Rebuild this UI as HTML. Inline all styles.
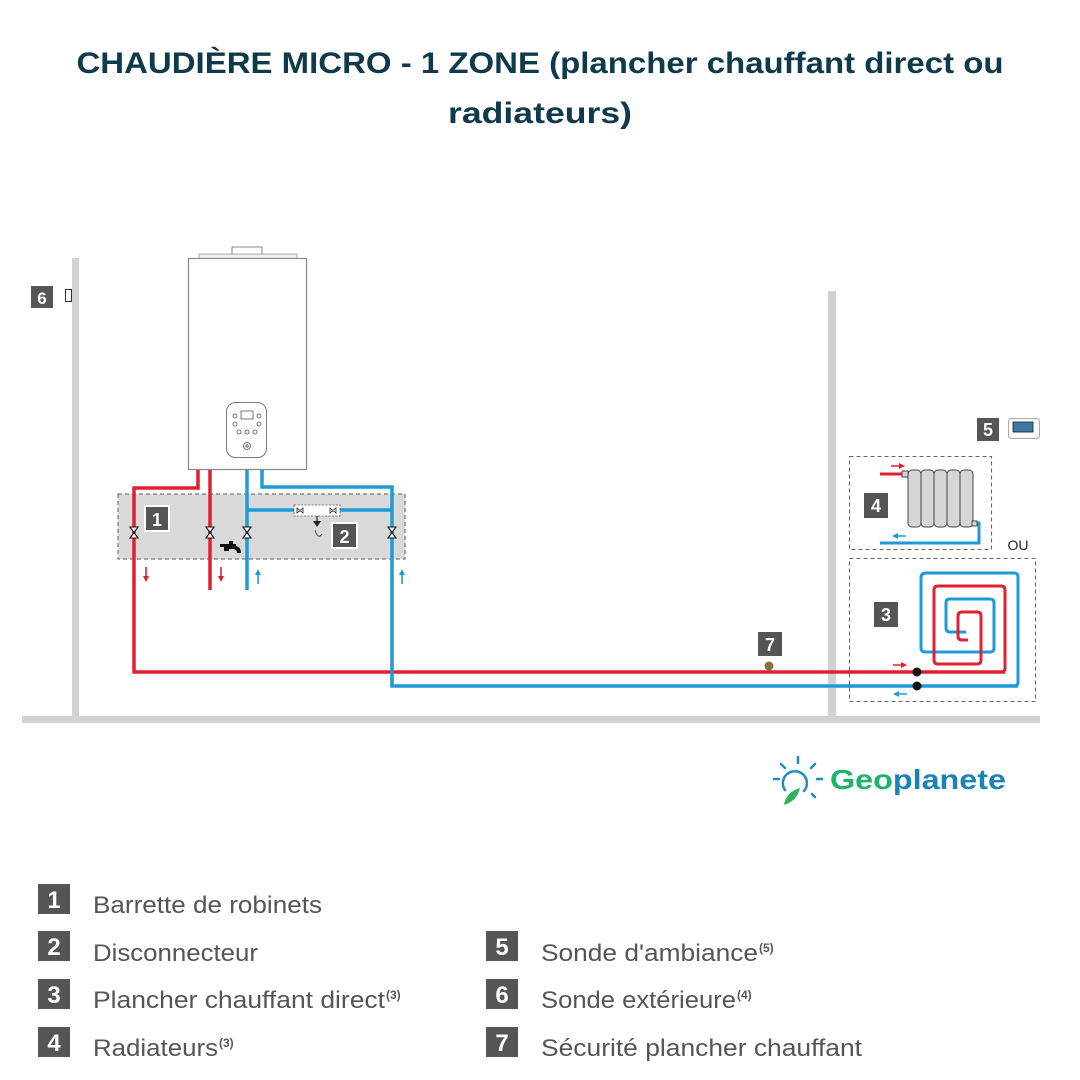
<!DOCTYPE html>
<html><head><meta charset="utf-8"><style>
html,body{margin:0;padding:0;background:#fff;}
svg{display:block;}
text{font-family:"Liberation Sans",sans-serif;}
</style></head><body>
<svg width="1080" height="1080" viewBox="0 0 1080 1080" xmlns="http://www.w3.org/2000/svg">
<rect width="1080" height="1080" fill="#fff"/>
<!-- Title -->
<text x="540" y="73" text-anchor="middle" font-size="30" font-weight="bold" fill="#0f3a4c" textLength="927" lengthAdjust="spacingAndGlyphs">CHAUDIÈRE MICRO - 1 ZONE (plancher chauffant direct ou</text>
<text x="540" y="123" text-anchor="middle" font-size="30" font-weight="bold" fill="#0f3a4c" textLength="184" lengthAdjust="spacingAndGlyphs">radiateurs)</text>

<!-- walls -->
<rect x="72" y="258" width="7" height="462" fill="#d2d2d2"/>
<rect x="828" y="291" width="8" height="429" fill="#d2d2d2"/>
<rect x="22" y="716" width="1018" height="7" fill="#d2d2d2"/>

<!-- label 6 -->
<rect x="31" y="286" width="22" height="22" fill="#555"/>
<text x="42" y="304" text-anchor="middle" font-size="17" font-weight="bold" fill="#fff">6</text>
<rect x="65.5" y="289.5" width="6" height="12" fill="none" stroke="#333" stroke-width="1"/>

<!-- manifold area -->
<rect x="118" y="494" width="287" height="65" fill="#d9d9d9" stroke="#777" stroke-width="1.2" stroke-dasharray="4,3"/>

<!-- boiler -->
<rect x="232" y="247" width="30" height="10" fill="#fff" stroke="#888"/>
<rect x="199" y="254" width="98" height="5" fill="#eee" stroke="#999" stroke-width="0.8"/>
<rect x="188.5" y="258.5" width="118" height="211" fill="#fff" stroke="#888" stroke-width="1.2"/>
<rect x="226.5" y="402.5" width="40" height="55" rx="9" fill="#fff" stroke="#777"/>
<rect x="241" y="411" width="12" height="8" fill="#fff" stroke="#555" stroke-width="0.8"/>
<g fill="none" stroke="#555" stroke-width="0.8">
<circle cx="235" cy="416" r="2"/><circle cx="259" cy="416" r="2"/>
<circle cx="235" cy="424" r="2"/><circle cx="259" cy="424" r="2"/>
<circle cx="239" cy="432" r="2"/><circle cx="247" cy="432" r="2"/><circle cx="255" cy="432" r="2"/>
<circle cx="247" cy="446" r="3.5"/><circle cx="247" cy="446" r="1.2"/>
</g>

<!-- pipes -->
<g fill="none" stroke-width="3.5" stroke-linejoin="miter">
<path d="M198 470 V488 H134 V672 H1005" stroke="#e02030"/>
<path d="M210 470 V590" stroke="#e02030"/>
<path d="M247 470 V590" stroke="#1e9ad6"/>
<path d="M262 470 V487 H392 V686 H1018" stroke="#1e9ad6"/>
<path d="M247 510 H392" stroke="#1e9ad6"/>
</g>
<!-- disconnector -->
<rect x="294" y="505" width="46" height="11" fill="#fff" stroke="#555" stroke-width="0.8" stroke-dasharray="2,1.5"/>
<path d="M297 508 L303 513 V508 L297 513Z M330 508 L336 513 V508 L330 513Z" fill="#fff" stroke="#222" stroke-width="0.8"/>
<path d="M317 516 V524" stroke="#222" stroke-width="1.2"/>
<path d="M313 521 L317 527 L321 521Z" fill="#222"/>
<path d="M315 530 Q318 540 322 534" fill="none" stroke="#333" stroke-width="0.8"/>

<!-- valves -->
<g fill="#fff" stroke="#111" stroke-width="1.1">
<path d="M130 527 H138 L130 538 H138 Z"/>
<path d="M206 527 H214 L206 538 H214 Z"/>
<path d="M243 527 H251 L243 538 H251 Z"/>
<path d="M388 527 H396 L388 538 H396 Z"/>
</g>
<!-- tap -->
<path d="M220 544 H236 V549 H229 V551 H224 V547 H220Z M229 541 H233 V544 H229Z" fill="#111"/>
<path d="M236 546 Q241 547 241 553 H237 Q237 550 234 549" fill="#111"/>

<!-- labels 1, 2 -->
<rect x="144" y="505" width="26" height="27" fill="#fff"/>
<rect x="146" y="507" width="22" height="23" fill="#555"/>
<text x="157" y="526" text-anchor="middle" font-size="18" font-weight="bold" fill="#fff">1</text>
<rect x="331" y="522" width="27" height="27" fill="#fff"/>
<rect x="333" y="524" width="23" height="23" fill="#555"/>
<text x="344.5" y="543" text-anchor="middle" font-size="18" font-weight="bold" fill="#fff">2</text>

<!-- flow arrows -->
<g stroke-width="1.6">
<path d="M146 567 V578" stroke="#e02030"/><path d="M143 576 L146 582 L149 576Z" fill="#e02030"/>
<path d="M221 567 V578" stroke="#e02030"/><path d="M218 576 L221 582 L224 576Z" fill="#e02030"/>
<path d="M258 573 V584" stroke="#1e9ad6"/><path d="M255 575 L258 569 L261 575Z" fill="#1e9ad6"/>
<path d="M402 573 V584" stroke="#1e9ad6"/><path d="M399 575 L402 569 L405 575Z" fill="#1e9ad6"/>
</g>

<!-- 7 -->
<rect x="758" y="632" width="24" height="24" fill="#555"/>
<text x="770" y="651" text-anchor="middle" font-size="18" font-weight="bold" fill="#fff">7</text>
<circle cx="769" cy="666" r="4.5" fill="#8b7040"/>

<!-- 5 -->
<rect x="977" y="418" width="22" height="23" fill="#555"/>
<text x="988" y="436" text-anchor="middle" font-size="18" font-weight="bold" fill="#fff">5</text>
<rect x="1008.5" y="418.5" width="31" height="20" rx="3" fill="#fafafa" stroke="#aaa"/>
<rect x="1013" y="422" width="20" height="10" fill="#3b7aa0" stroke="#222" stroke-width="0.8"/>

<!-- box 4 -->
<rect x="849.5" y="456.5" width="142" height="93" fill="none" stroke="#666" stroke-width="1.1" stroke-dasharray="4,3"/>
<rect x="864" y="493" width="24" height="25" fill="#555"/>
<text x="876" y="512" text-anchor="middle" font-size="18" font-weight="bold" fill="#fff">4</text>
<path d="M880 474 H904" stroke="#e02030" stroke-width="3"/>
<path d="M891 466 H901" stroke="#e02030" stroke-width="1.5"/><path d="M899 463 L905 466 L899 469Z" fill="#e02030"/>
<path d="M972 523 H979 V543 H880" fill="none" stroke="#1e9ad6" stroke-width="3"/>
<path d="M896 536 H906" stroke="#1e9ad6" stroke-width="1.5"/><path d="M898 533 L892 536 L898 539Z" fill="#1e9ad6"/>
<g fill="#d6d6d6" stroke="#444" stroke-width="1">
<rect x="902" y="471" width="6" height="6"/>
<rect x="908" y="470" width="13" height="57" rx="4"/>
<rect x="921" y="470" width="13" height="57" rx="4"/>
<rect x="934" y="470" width="13" height="57" rx="4"/>
<rect x="947" y="470" width="13" height="57" rx="4"/>
<rect x="960" y="470" width="13" height="57" rx="4"/>
<rect x="972" y="521" width="5" height="5"/>
</g>
<text x="1018" y="550" text-anchor="middle" font-size="14" fill="#222">OU</text>

<!-- box 3 -->
<rect x="849.5" y="558.5" width="186" height="143" fill="none" stroke="#666" stroke-width="1.1" stroke-dasharray="4,3"/>
<rect x="874" y="602" width="24" height="25" fill="#555"/>
<text x="886" y="621" text-anchor="middle" font-size="18" font-weight="bold" fill="#fff">3</text>
<g fill="none" stroke-width="3" stroke-linejoin="round">
<path d="M917 686 H1014 Q1018 686 1018 682 V577 Q1018 573 1014 573 H926 Q921 573 921 578 V648 Q921 652 926 652 H990 Q994 652 994 648 V603 Q994 599 990 599 H950 Q946 599 946 603 V628 Q946 632 950 632 H966" stroke="#1e9ad6"/>
<path d="M917 672 H1001 Q1005 672 1005 668 V590 Q1005 586 1001 586 H938 Q934 586 934 590 V660 Q934 664 938 664 H977 Q981 664 981 660 V616 Q981 612 977 612 H962 Q958 612 958 616 V636 Q958 640 962 640 H968" stroke="#e02030"/>
</g>
<circle cx="917" cy="672" r="4.5" fill="#111"/>
<circle cx="917" cy="686" r="4.5" fill="#111"/>
<path d="M893 665 H903" stroke="#e02030" stroke-width="1.5"/><path d="M901 662 L907 665 L901 668Z" fill="#e02030"/>
<path d="M897 694 H907" stroke="#1e9ad6" stroke-width="1.5"/><path d="M899 691 L893 694 L899 697Z" fill="#1e9ad6"/>

<!-- logo -->
<g stroke="#1e8fb8" stroke-width="2.5" stroke-linecap="round" fill="none">
<path d="M785 790 A12 12 0 1 1 804 791"/>
<path d="M798 757 V763"/><path d="M781 764 L785 768"/><path d="M815 764 L811 768"/>
<path d="M774 779 H779"/><path d="M817 779 H822"/><path d="M812 794 L815 797"/>
</g>
<path d="M784 805 Q786 792 800 788 Q797 801 784 805Z" fill="#2db35a"/>
<text x="830" y="789" font-size="28" font-weight="bold" fill="#1db36a" textLength="176" lengthAdjust="spacingAndGlyphs">Geo<tspan fill="#1a84b8">planete</tspan></text>

<!-- legend -->
<g font-size="24" fill="#555">
<rect x="38" y="884" width="32" height="30" fill="#555"/><text x="54" y="908" text-anchor="middle" fill="#fff" font-size="24" font-weight="bold">1</text>
<text x="93" y="913" textLength="229" lengthAdjust="spacingAndGlyphs">Barrette de robinets</text>
<rect x="38" y="931" width="32" height="30" fill="#555"/><text x="54" y="955" text-anchor="middle" fill="#fff" font-size="24" font-weight="bold">2</text>
<text x="93" y="961" textLength="165" lengthAdjust="spacingAndGlyphs">Disconnecteur</text>
<rect x="38" y="979" width="32" height="30" fill="#555"/><text x="54" y="1003" text-anchor="middle" fill="#fff" font-size="24" font-weight="bold">3</text>
<text x="93" y="1008" textLength="292" lengthAdjust="spacingAndGlyphs">Plancher chauffant direct</text>
<text x="386" y="999" font-size="12" font-weight="bold">(3)</text>
<rect x="38" y="1027" width="32" height="30" fill="#555"/><text x="54" y="1051" text-anchor="middle" fill="#fff" font-size="24" font-weight="bold">4</text>
<text x="93" y="1056" textLength="125" lengthAdjust="spacingAndGlyphs">Radiateurs</text>
<text x="219" y="1047" font-size="12" font-weight="bold">(3)</text>
<rect x="486" y="931" width="32" height="30" fill="#555"/><text x="502" y="955" text-anchor="middle" fill="#fff" font-size="24" font-weight="bold">5</text>
<text x="541" y="961" textLength="217" lengthAdjust="spacingAndGlyphs">Sonde d'ambiance</text>
<text x="759" y="952" font-size="12" font-weight="bold">(5)</text>
<rect x="486" y="979" width="32" height="30" fill="#555"/><text x="502" y="1003" text-anchor="middle" fill="#fff" font-size="24" font-weight="bold">6</text>
<text x="541" y="1008" textLength="195" lengthAdjust="spacingAndGlyphs">Sonde extérieure</text>
<text x="737" y="999" font-size="12" font-weight="bold">(4)</text>
<rect x="486" y="1027" width="32" height="30" fill="#555"/><text x="502" y="1051" text-anchor="middle" fill="#fff" font-size="24" font-weight="bold">7</text>
<text x="541" y="1056" textLength="321" lengthAdjust="spacingAndGlyphs">Sécurité plancher chauffant</text>
</g>
</svg>
</body></html>
